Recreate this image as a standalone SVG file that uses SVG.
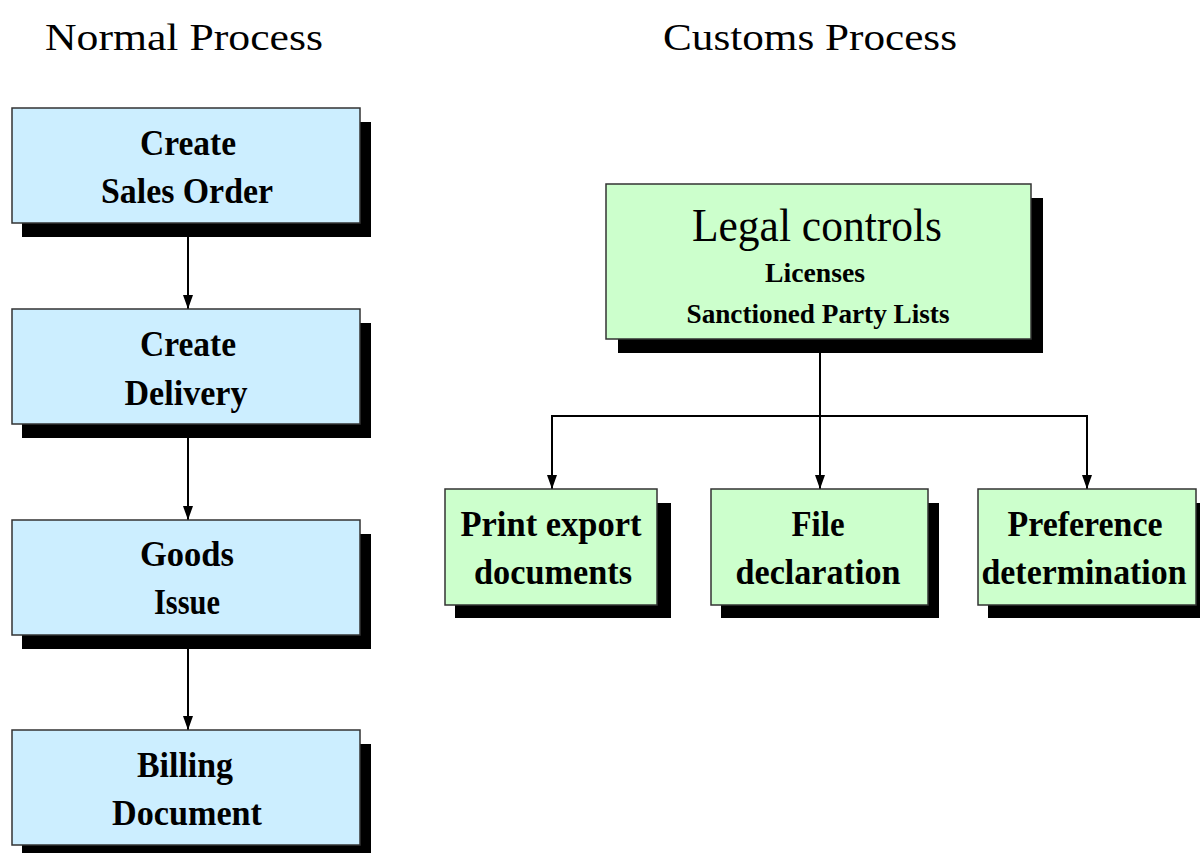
<svg xmlns="http://www.w3.org/2000/svg" width="1204" height="853" viewBox="0 0 1204 853">
<style>
text{font-family:"Liberation Serif","Times New Roman",serif;font-weight:bold;fill:#000;text-anchor:middle}
.title{font-size:38px;font-weight:normal}
.lbl{font-size:36px}
.big{font-size:46px;font-weight:normal}
.small{font-size:27px}
.shadow{fill:#000}
.blue{fill:#cceeff;stroke:#333;stroke-width:1.5}
.green{fill:#ccffcc;stroke:#333;stroke-width:1.5}
.conn{stroke:#000;stroke-width:2;fill:none}
</style>
<defs>
<marker id="arr" markerUnits="userSpaceOnUse" markerWidth="14" markerHeight="12" refX="14" refY="6" orient="auto" viewBox="0 0 14 12">
<path d="M0,1 L14,6 L0,11 Z" fill="#000"/>
</marker>
</defs>
<rect width="1204" height="853" fill="#fff"/>
<text class="title" x="184" y="50" textLength="278" lengthAdjust="spacingAndGlyphs">Normal Process</text>
<text class="title" x="810" y="50" textLength="294" lengthAdjust="spacingAndGlyphs">Customs Process</text>
<g id="connectors">
<path class="conn" d="M188,223 V309" marker-end="url(#arr)"/>
<path class="conn" d="M188,424 V520" marker-end="url(#arr)"/>
<path class="conn" d="M188,635 V730" marker-end="url(#arr)"/>
<path class="conn" d="M820,339 V489" marker-end="url(#arr)"/>
<path class="conn" d="M820,416 H552 V489" marker-end="url(#arr)"/>
<path class="conn" d="M820,416 H1087 V489" marker-end="url(#arr)"/>
</g>
<g id="n-sales-order">
<rect class="shadow" x="22" y="122" width="349" height="115"/>
<rect class="blue" x="12" y="108" width="348" height="115"/>
<text class="lbl" x="188" y="155" textLength="96" lengthAdjust="spacingAndGlyphs">Create</text>
<text class="lbl" x="187" y="203" textLength="172" lengthAdjust="spacingAndGlyphs">Sales Order</text>
</g>
<g id="n-delivery">
<rect class="shadow" x="22" y="323" width="349" height="115"/>
<rect class="blue" x="12" y="309" width="348" height="115"/>
<text class="lbl" x="188" y="356" textLength="96" lengthAdjust="spacingAndGlyphs">Create</text>
<text class="lbl" x="186" y="405" textLength="123" lengthAdjust="spacingAndGlyphs">Delivery</text>
</g>
<g id="n-goods-issue">
<rect class="shadow" x="22" y="534" width="349" height="115"/>
<rect class="blue" x="12" y="520" width="348" height="115"/>
<text class="lbl" x="187" y="566" textLength="94" lengthAdjust="spacingAndGlyphs">Goods</text>
<text class="lbl" x="187" y="614" textLength="66" lengthAdjust="spacingAndGlyphs">Issue</text>
</g>
<g id="n-billing">
<rect class="shadow" x="22" y="744" width="349" height="115"/>
<rect class="blue" x="12" y="730" width="348" height="115"/>
<text class="lbl" x="185" y="777" textLength="96" lengthAdjust="spacingAndGlyphs">Billing</text>
<text class="lbl" x="187" y="825" textLength="150" lengthAdjust="spacingAndGlyphs">Document</text>
</g>
<g id="n-legal">
<rect class="shadow" x="618" y="198" width="425" height="155"/>
<rect class="green" x="606" y="184" width="425" height="155"/>
<text class="big" x="817" y="241" textLength="250" lengthAdjust="spacingAndGlyphs">Legal controls</text>
<text class="small" x="815" y="282" textLength="100" lengthAdjust="spacingAndGlyphs">Licenses</text>
<text class="small" x="818" y="323" textLength="263" lengthAdjust="spacingAndGlyphs">Sanctioned Party Lists</text>
</g>
<g id="n-print">
<rect class="shadow" x="455" y="503" width="216" height="115"/>
<rect class="green" x="445" y="489" width="212" height="116"/>
<text class="lbl" x="551" y="536" textLength="181" lengthAdjust="spacingAndGlyphs">Print export</text>
<text class="lbl" x="553" y="584" textLength="158" lengthAdjust="spacingAndGlyphs">documents</text>
</g>
<g id="n-file">
<rect class="shadow" x="721" y="503" width="218" height="115"/>
<rect class="green" x="711" y="489" width="217" height="116"/>
<text class="lbl" x="818" y="536" textLength="53" lengthAdjust="spacingAndGlyphs">File</text>
<text class="lbl" x="818" y="584" textLength="165" lengthAdjust="spacingAndGlyphs">declaration</text>
</g>
<g id="n-preference">
<rect class="shadow" x="988" y="503" width="212" height="115"/>
<rect class="green" x="978" y="489" width="218" height="116"/>
<text class="lbl" x="1085" y="536" textLength="155" lengthAdjust="spacingAndGlyphs">Preference</text>
<text class="lbl" x="1084" y="584" textLength="205" lengthAdjust="spacingAndGlyphs">determination</text>
</g>
</svg>
